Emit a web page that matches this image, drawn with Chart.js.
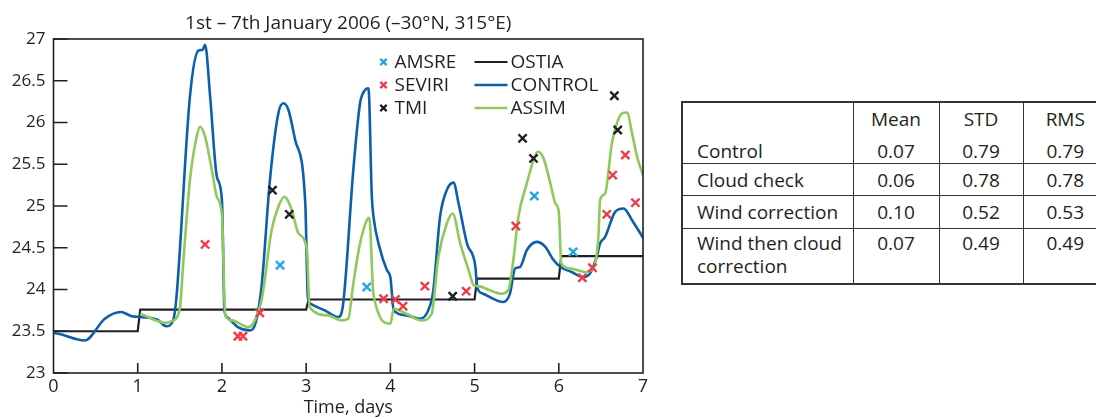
<!DOCTYPE html>
<html>
<head>
<meta charset="utf-8">
<script src="https://cdn.jsdelivr.net/npm/chart.js@4"></script>
<style>
  html, body { margin: 0; padding: 0; background: #fff; overflow: hidden; }
  body { width: 1096px; height: 419px; position: relative; font-family: "Open Sans", sans-serif; color: #231f20; }
  #wrap { position: absolute; left: 0; top: 0; width: 665px; height: 419px; }
  table.stats {
    position: absolute; left: 681px; top: 101px; width: 426px; table-layout: fixed;
    border-collapse: collapse; font-size: 19px; border: 2px solid #333;
  }
  table.stats td {
    border-left: 1.5px solid #333; border-right: 1.5px solid #333;
    padding: 0; line-height: 22px; text-align: center; vertical-align: middle; box-sizing: border-box;
  }
  table.stats td.name { text-align: left; padding-left: 14px; }
  table.stats tr.sep td { border-bottom: 1.5px solid #333; }
  table.stats tr.head td { height: 31px; padding-top: 2px; }
  table.stats tr.ctrl td { height: 30px; padding-top: 6px; }
  table.stats tr.cloud td { height: 32px; padding-top: 1px; }
  table.stats tr.wind td { height: 33px; padding-top: 1px; }
  table.stats tr.last td { height: 56px; vertical-align: top; padding-top: 3px; line-height: 23.5px; }
</style>
</head>
<body>
<div id="wrap"><canvas id="sst" width="665" height="419"></canvas></div>

<table class="stats">
  <colgroup><col style="width:171px"><col style="width:86px"><col style="width:84px"><col style="width:85px"></colgroup>
  <tr class="head"><td class="name"></td><td>Mean</td><td>STD</td><td>RMS</td></tr>
  <tr class="ctrl sep"><td class="name">Control</td><td>0.07</td><td>0.79</td><td>0.79</td></tr>
  <tr class="cloud sep"><td class="name">Cloud check</td><td>0.06</td><td>0.78</td><td>0.78</td></tr>
  <tr class="wind sep"><td class="name">Wind correction</td><td>0.10</td><td>0.52</td><td>0.53</td></tr>
  <tr class="last"><td class="name">Wind then cloud<br>correction</td><td>0.07</td><td>0.49</td><td>0.49</td></tr>
</table>

<script>
// SST time series, 1-7 Jan 2006
const ostiaT = [0, 1, 1.03, 3, 3.03, 5, 5.03, 6, 6.03, 7];
const ostiaV = [23.5, 23.5, 23.76, 23.76, 23.88, 23.88, 24.13, 24.13, 24.4, 24.4];

const controlT = [0, 0.06, 0.37, 0.61, 0.80, 0.93, 1.03, 1.23, 1.34, 1.42, 1.46, 1.62, 1.72, 1.77, 1.80, 1.86, 1.94, 2.00, 2.03, 2.06,
  2.19, 2.33, 2.39, 2.47, 2.57, 2.67, 2.73, 2.79, 2.87, 2.99, 3.02, 3.05, 3.22, 3.38, 3.44, 3.56, 3.64, 3.70, 3.74, 3.78,
  3.80, 3.87, 3.96, 4.00, 4.04, 4.19, 4.35, 4.45, 4.51, 4.59, 4.67, 4.75, 4.81, 4.91, 5.01, 5.03, 5.10, 5.34, 5.42, 5.48,
  5.54, 5.62, 5.74, 5.84, 5.94, 6.02, 6.15, 6.29, 6.37, 6.45, 6.49, 6.55, 6.67, 6.77, 6.87, 7.0];
const controlV = [23.48, 23.47, 23.39, 23.65, 23.73, 23.68, 23.67, 23.64, 23.56, 23.63, 23.91, 26.31, 26.86, 26.87, 26.93, 26.31, 25.35, 25.07, 23.75, 23.67,
  23.55, 23.51, 23.57, 24.03, 25.31, 26.11, 26.23, 26.15, 25.79, 25.03, 23.91, 23.83, 23.75, 23.67, 23.83, 25.43, 26.23, 26.39, 26.41, 25.11,
  24.87, 24.51, 24.23, 24.15, 23.75, 23.69, 23.65, 23.75, 23.99, 24.87, 25.19, 25.28, 25.03, 24.55, 24.27, 24.03, 23.95, 23.85, 23.95, 24.25,
  24.27, 24.47, 24.57, 24.51, 24.35, 24.27, 24.21, 24.15, 24.19, 24.39, 24.55, 24.63, 24.93, 24.97, 24.83, 24.62];

const assimT = [1.03, 1.34, 1.40, 1.50, 1.54, 1.62, 1.70, 1.74, 1.80, 1.88, 1.94, 2.00, 2.04, 2.12, 2.31, 2.37, 2.47, 2.59, 2.67, 2.74,
  2.83, 2.91, 3.01, 3.04, 3.26, 3.42, 3.50, 3.56, 3.64, 3.72, 3.75, 3.80, 4.00, 4.04, 4.19, 4.37, 4.49, 4.57, 4.67, 4.74,
  4.83, 4.93, 4.99, 5.05, 5.18, 5.32, 5.40, 5.46, 5.52, 5.62, 5.70, 5.75, 5.82, 5.90, 5.96, 6.00, 6.03, 6.15, 6.31, 6.41,
  6.47, 6.49, 6.55, 6.63, 6.69, 6.75, 6.81, 6.87, 6.93, 7.0];
const assimV = [23.71, 23.60, 23.62, 23.77, 24.31, 25.31, 25.83, 25.95, 25.83, 25.43, 25.11, 24.89, 23.69, 23.63, 23.55, 23.59, 23.87, 24.71, 24.99, 25.11,
  24.95, 24.67, 24.47, 23.79, 23.69, 23.63, 23.65, 24.07, 24.55, 24.83, 24.86, 23.93, 23.59, 23.77, 23.71, 23.63, 23.71, 24.39, 24.79, 24.91,
  24.55, 24.23, 24.05, 24.04, 23.99, 23.95, 23.99, 24.35, 24.87, 25.27, 25.55, 25.65, 25.57, 25.27, 25.03, 24.93, 24.31, 24.25, 24.21, 24.25,
  24.63, 25.07, 25.15, 25.75, 25.99, 26.11, 26.12, 25.87, 25.59, 25.37];

const amsreT = [2.69, 3.72, 5.71, 6.17];
const amsreV = [24.29, 24.03, 25.12, 24.45];

const seviriT = [1.80, 2.19, 2.25, 2.45, 3.92, 4.06, 4.15, 4.41, 4.90, 5.49, 6.28, 6.40, 6.57, 6.64, 6.79, 6.91];
const seviriV = [24.54, 23.44, 23.44, 23.72, 23.89, 23.88, 23.80, 24.04, 23.98, 24.76, 24.14, 24.26, 24.90, 25.37, 25.61, 25.04];

const tmiT = [2.60, 2.80, 4.74, 5.57, 5.70, 6.66, 6.70];
const tmiV = [25.19, 24.90, 23.92, 25.81, 25.57, 26.32, 25.91];

const yTicks = [23, 23.5, 24, 24.5, 25, 25.5, 26, 26.5, 27];

const INK = '#231f20';
const FONT = '"Open Sans", sans-serif';

function pts(t, v) {
  return t.map((x, i) => ({ x: x, y: v[i] }));
}

function markerSet(label, t, v, color) {
  return {
    label: label, data: pts(t, v), showLine: false,
    pointStyle: 'crossRot', pointRadius: 5.8, borderColor: color, backgroundColor: color, borderWidth: 2.4
  };
}

function lineSet(label, t, v, color, width, smooth) {
  return {
    label: label, data: pts(t, v), showLine: true, pointRadius: 0,
    borderColor: color, backgroundColor: color, borderWidth: width,
    cubicInterpolationMode: smooth ? 'monotone' : 'default', tension: 0
  };
}

// frame round the plot plus inward tick marks
const framePlugin = {
  id: 'frame',
  afterDraw(chart) {
    const ctx = chart.ctx, a = chart.chartArea;
    const xs = chart.scales.x, ys = chart.scales.y;
    ctx.save();
    ctx.strokeStyle = INK;
    ctx.lineWidth = 1.6;
    ctx.strokeRect(a.left, a.top, a.right - a.left, a.bottom - a.top);
    ctx.beginPath();
    yTicks.forEach(v => {
      const p = ys.getPixelForValue(v);
      ctx.moveTo(a.left, p); ctx.lineTo(a.left + 14, p);
    });
    for (let d = 1; d < 7; d++) {
      const p = xs.getPixelForValue(d);
      ctx.moveTo(p, a.bottom); ctx.lineTo(p, a.bottom - 10);
    }
    ctx.stroke();
    ctx.restore();
  }
};

// two-column legend inside the plot
const legendPlugin = {
  id: 'boxLegend',
  afterDraw(chart) {
    const ctx = chart.ctx, a = chart.chartArea;
    const ds = chart.data.datasets;
    const rows = [a.top + 23, a.top + 46, a.top + 69];
    ctx.save();
    ctx.font = '19px ' + FONT;
    ctx.fillStyle = INK;
    ctx.textBaseline = 'middle';
    ['AMSRE', 'SEVIRI', 'TMI'].forEach((name, i) => {
      const d = ds.find(s => s.label === name);
      const cx = a.left + 330, r = 4.5 * Math.SQRT1_2;
      ctx.strokeStyle = d.borderColor;
      ctx.lineWidth = 2.3;
      ctx.beginPath();
      ctx.moveTo(cx - r, rows[i] - r); ctx.lineTo(cx + r, rows[i] + r);
      ctx.moveTo(cx - r, rows[i] + r); ctx.lineTo(cx + r, rows[i] - r);
      ctx.stroke();
      ctx.fillText(name, a.left + 341, rows[i] + 1);
    });
    ['OSTIA', 'CONTROL', 'ASSIM'].forEach((name, i) => {
      const d = ds.find(s => s.label === name);
      ctx.strokeStyle = d.borderColor;
      ctx.lineWidth = d.borderWidth;
      ctx.beginPath();
      ctx.moveTo(a.left + 421, rows[i]); ctx.lineTo(a.left + 454, rows[i]);
      ctx.stroke();
      ctx.fillText(name, a.left + 457, rows[i] + 1);
    });
    ctx.restore();
  }
};

// centre the title over the plot rather than the whole canvas
const titlePlugin = {
  id: 'plotTitle',
  afterDraw(chart) {
    const ctx = chart.ctx, a = chart.chartArea;
    ctx.save();
    ctx.font = '19px ' + FONT;
    ctx.fillStyle = INK;
    ctx.textAlign = 'center';
    ctx.textBaseline = 'middle';
    ctx.fillText('1st – 7th January 2006 (–30°N, 315°E)', (a.left + a.right) / 2, a.top - 15);
    ctx.restore();
  }
};

new Chart(document.getElementById('sst'), {
  type: 'scatter',
  data: {
    datasets: [
      markerSet('AMSRE', amsreT, amsreV, '#1fa7e1'),
      markerSet('SEVIRI', seviriT, seviriV, '#ef3b47'),
      markerSet('TMI', tmiT, tmiV, INK),
      lineSet('ASSIM', assimT, assimV, '#8dc95c', 2.6, true),
      lineSet('CONTROL', controlT, controlV, '#0d5fab', 2.6, true),
      lineSet('OSTIA', ostiaT, ostiaV, INK, 2.2, false)
    ]
  },
  options: {
    responsive: false,
    animation: false,
    layout: { padding: { top: 39, right: 22, left: 0, bottom: 0 } },
    plugins: {
      legend: { display: false },
      tooltip: { enabled: false },
      title: { display: false }
    },
    scales: {
      x: {
        type: 'linear', min: 0, max: 7,
        grid: { display: false, drawTicks: false },
        border: { display: false },
        ticks: { stepSize: 1, color: INK, font: { family: FONT, size: 18 }, padding: 3, maxRotation: 0 },
        title: { display: true, text: 'Time, days', color: INK, font: { family: FONT, size: 18 }, padding: 0 },
        afterFit(scale) { scale.height = 46; }
      },
      y: {
        min: 23, max: 27,
        grid: { display: false, drawTicks: false },
        border: { display: false },
        afterBuildTicks(scale) { scale.ticks = yTicks.map(v => ({ value: v })); },
        ticks: { color: INK, font: { family: FONT, size: 17 }, padding: 8, callback: v => String(v) },
        afterFit(scale) { scale.width = 53.5; }
      }
    }
  },
  plugins: [framePlugin, legendPlugin, titlePlugin]
});
</script>
</body>
</html>
